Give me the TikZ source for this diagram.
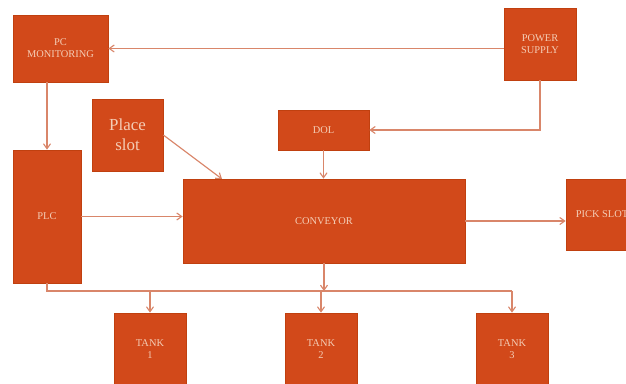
\documentclass[tikz,border=0pt]{standalone}
\usepackage{fontspec}
\setmainfont{Liberation Serif}
\usetikzlibrary{arrows.meta}
\definecolor{boxfill}{HTML}{D2491A}
\definecolor{boxedge}{HTML}{C0400F}
\definecolor{linkcol}{HTML}{D9866A}
\definecolor{txtcol}{HTML}{F4CDB6}

\begin{document}
\begin{tikzpicture}
[
x=0.025cm,y=-0.025cm,
block/.style 2 args={draw=boxedge,fill=boxfill,line width=0.5pt,text=txtcol,align=center,
            inner sep=1pt,minimum width=#1,minimum height=#2,font=\fontsize{7.4}{8.6}\selectfont},
conn/.style={draw=linkcol,line width=0.8pt,-{Straight Barb[length=3.5pt,width=5pt]}},
wire/.style={draw=linkcol,line width=0.8pt},
]
\useasboundingbox (0,0) rectangle (626,383);
\clip (0,0) rectangle (626,383);

%Place the nodes
\node[block={2.375cm}{1.675cm}] (pcm) at (60.5,48.5) {PC\\MONITORING};
\node[block={1.8cm}{1.8cm}] (pwr) at (540,44) {POWER\\SUPPLY};
\node[block={1.775cm}{1.8cm},font=\fontsize{12}{14}\selectfont] (place) at (127.5,135) {Place\\slot};
\node[block={2.275cm}{1.0cm}] (dol) at (323.5,130) {DOL};
\node[block={1.7cm}{3.325cm}] (plc) at (47,216.5) {PLC};
\node[block={7.05cm}{2.1cm}] (conv) at (324,221) {CONVEYOR};
\node[block={1.8cm}{1.775cm}] (pick) at (602,214.5) {PICK SLOT};
\node[block={1.8cm}{1.8cm}] (t1) at (150,349) {TANK\\1};
\node[block={1.8cm}{1.8cm}] (t2) at (321,349) {TANK\\2};
\node[block={1.8cm}{1.8cm}] (t3) at (512,349) {TANK\\3};
\coordinate (bus) at (0,291);
\coordinate (convin) at (222,179);

%Draw the connections
\draw[conn] (pwr.west |- pcm.east) -- (pcm.east);
\draw[conn] (pwr.south) |- (dol.east);
\draw[conn] (dol.south) -- (dol.south |- conv.north);
\draw[conn] (place.east) -- (convin);
\draw[conn] (plc.north |- pcm.south) -- (plc.north);
\draw[conn] (plc.east) -- (plc.east -| conv.west);
\draw[conn] (conv.east) -- (conv.east -| pick.west);
%\draw[conn] (conv.south) -- (conv.south |- bus);
\draw[wire] (plc.south) -- (plc.south |- bus) -- (t3.north |- bus);
\draw[conn] (conv.south) -- (conv.south |- bus);
\draw[conn] (t1.north |- bus) -- (t1.north);
\draw[conn] (t2.north |- bus) -- (t2.north);
\draw[conn] (t3.north |- bus) -- (t3.north);
\end{tikzpicture}
\end{document}
